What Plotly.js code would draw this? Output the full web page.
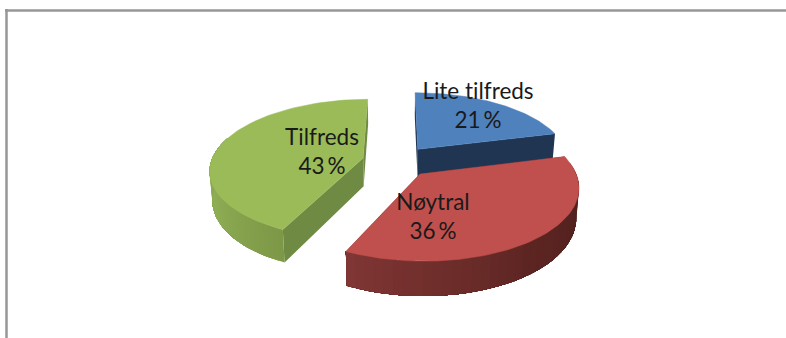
<!DOCTYPE html>
<html>
<head>
<meta charset="utf-8">
<script src="https://cdn.plot.ly/plotly-3.0.1.min.js"></script>
<style>html,body{margin:0;padding:0;background:#fff;overflow:hidden}#chart{width:786px;height:338px}#chart text{font-variant-ligatures:none !important;font-feature-settings:"liga" 0,"clig" 0,"dlig" 0 !important}</style>
</head>
<body>
<div id="chart"></div>
<script>
// Satisfaction shares, in percent
const categories = ['Lite tilfreds', 'Nøytral', 'Tilfreds'];
const shares = [21, 36, 43];

// Slice colours
const topColors = ['#4f81bd', '#c0504d', '#9bbb59'];
const cutColors = ['#1f3552', '#4f2120', '#6f8a42'];
const wallStartColors = ['#2a4a72', '#4a1e1b', '#7d9847'];
const wallMiddleColors = ['#2a4a72', '#5c2522', '#8fae54'];
const wallEndColors = ['#2a4a72', '#803634', '#87a24e'];

// Label anchors on the chart, in pixels
const labelX = [478, 433, 322];
const labelY = [108, 219, 154];

// Pseudo-3D projection of the pie's ground plane
const view = {cx: 397, cy: 161.5, a: 152, b: 69, k: 0.157, depth: 28.5, pull: 0.23, shrink: 0.985};

function project(t, r, bisector, lowered) {
  const X = r * Math.sin(t) + view.pull * Math.sin(bisector);
  const Z = r * Math.cos(t) + view.pull * Math.cos(bisector);
  const p = 1 / (1 + view.k * Z);
  const s = lowered ? view.shrink : 1;
  return [view.cx + view.a * X * p * s, view.cy - view.b * Z * p + (lowered ? view.depth * p : 0)];
}

function hexToRgb(h) {
  return [1, 3, 5].map(i => parseInt(h.substr(i, 2), 16));
}

function mix(c1, c2, f) {
  const a = hexToRgb(c1), b = hexToRgb(c2);
  return 'rgb(' + a.map((v, i) => Math.round(v + (b[i] - v) * f)).join(',') + ')';
}

function polygon(points, color, stroke) {
  const pts = points.concat([points[0]]);
  return {
    x: pts.map(p => p[0]),
    y: pts.map(p => p[1]),
    mode: 'lines',
    fill: 'toself',
    fillcolor: color,
    line: {color: color, width: stroke},
    hoverinfo: 'skip',
    showlegend: false
  };
}

const traces = [];
const total = shares.reduce((s, v) => s + v, 0);
let running = 0;
const TWO_PI = 2 * Math.PI;
const slices = shares.map(v => {
  const start = running / total * TWO_PI;
  running += v;
  return {start: start, end: running / total * TWO_PI};
});

slices.forEach((sl, i) => {
  const mid = (sl.start + sl.end) / 2;

  // Radial cut faces
  [sl.start, sl.end].forEach(t => {
    traces.push(polygon([
      project(t, 0, mid, false), project(t, 1, mid, false),
      project(t, 1, mid, true), project(t, 0, mid, true)
    ], cutColors[i], 0));
  });

  // Outer wall painted as overlapping bands, so no seams show between them
  const from = Math.max(sl.start, 0.45 * Math.PI);
  const to = Math.min(sl.end, 1.6 * Math.PI);
  const steps = 40;
  for (let n = 0; n < steps && to > from; n++) {
    const f = (n + 0.5) / steps;
    const color = f < 0.5
      ? mix(wallStartColors[i], wallMiddleColors[i], f * 2)
      : mix(wallMiddleColors[i], wallEndColors[i], (f - 0.5) * 2);
    const band = [];
    for (let m = n; m <= steps; m++) {
      band.push(project(from + (to - from) * m / steps, 1, mid, false));
    }
    for (let m = steps; m >= n; m--) {
      band.push(project(from + (to - from) * m / steps, 1, mid, true));
    }
    traces.push(polygon(band, color, 0));
  }

  // Top face
  const top = [project(0, 0, mid, false)];
  for (let n = 0; n <= 80; n++) {
    top.push(project(sl.start + (sl.end - sl.start) * n / 80, 1, mid, false));
  }
  traces.push(polygon(top, topColors[i], 0.5));
});

// Category name and share above each other
traces.push({
  x: labelX,
  y: labelY,
  mode: 'text',
  text: categories.map((c, i) => c + '<br>' + shares[i] + '\u2009%'),
  textposition: 'middle center',
  textfont: {family: 'Lato, sans-serif', size: 22.5, color: '#1a1a1a'},
  hoverinfo: 'skip',
  showlegend: false
});

const layout = {
  width: 786,
  height: 338,
  margin: {l: 0, r: 0, t: 0, b: 0},
  paper_bgcolor: '#ffffff',
  plot_bgcolor: '#ffffff',
  showlegend: false,
  xaxis: {range: [0, 786], visible: false, fixedrange: true},
  yaxis: {range: [338, 0], visible: false, fixedrange: true},
  shapes: [
    {type: 'line', xref: 'x', yref: 'y', x0: 6.5, x1: 6.5, y0: 9, y1: 338, line: {color: '#979797', width: 2.5}},
    {type: 'line', xref: 'x', yref: 'y', x0: 5, x1: 786, y0: 10.5, y1: 10.5, line: {color: '#979797', width: 2.5}}
  ]
};

Plotly.newPlot('chart', traces, layout, {displayModeBar: false, staticPlot: true});
</script>
</body>
</html>
